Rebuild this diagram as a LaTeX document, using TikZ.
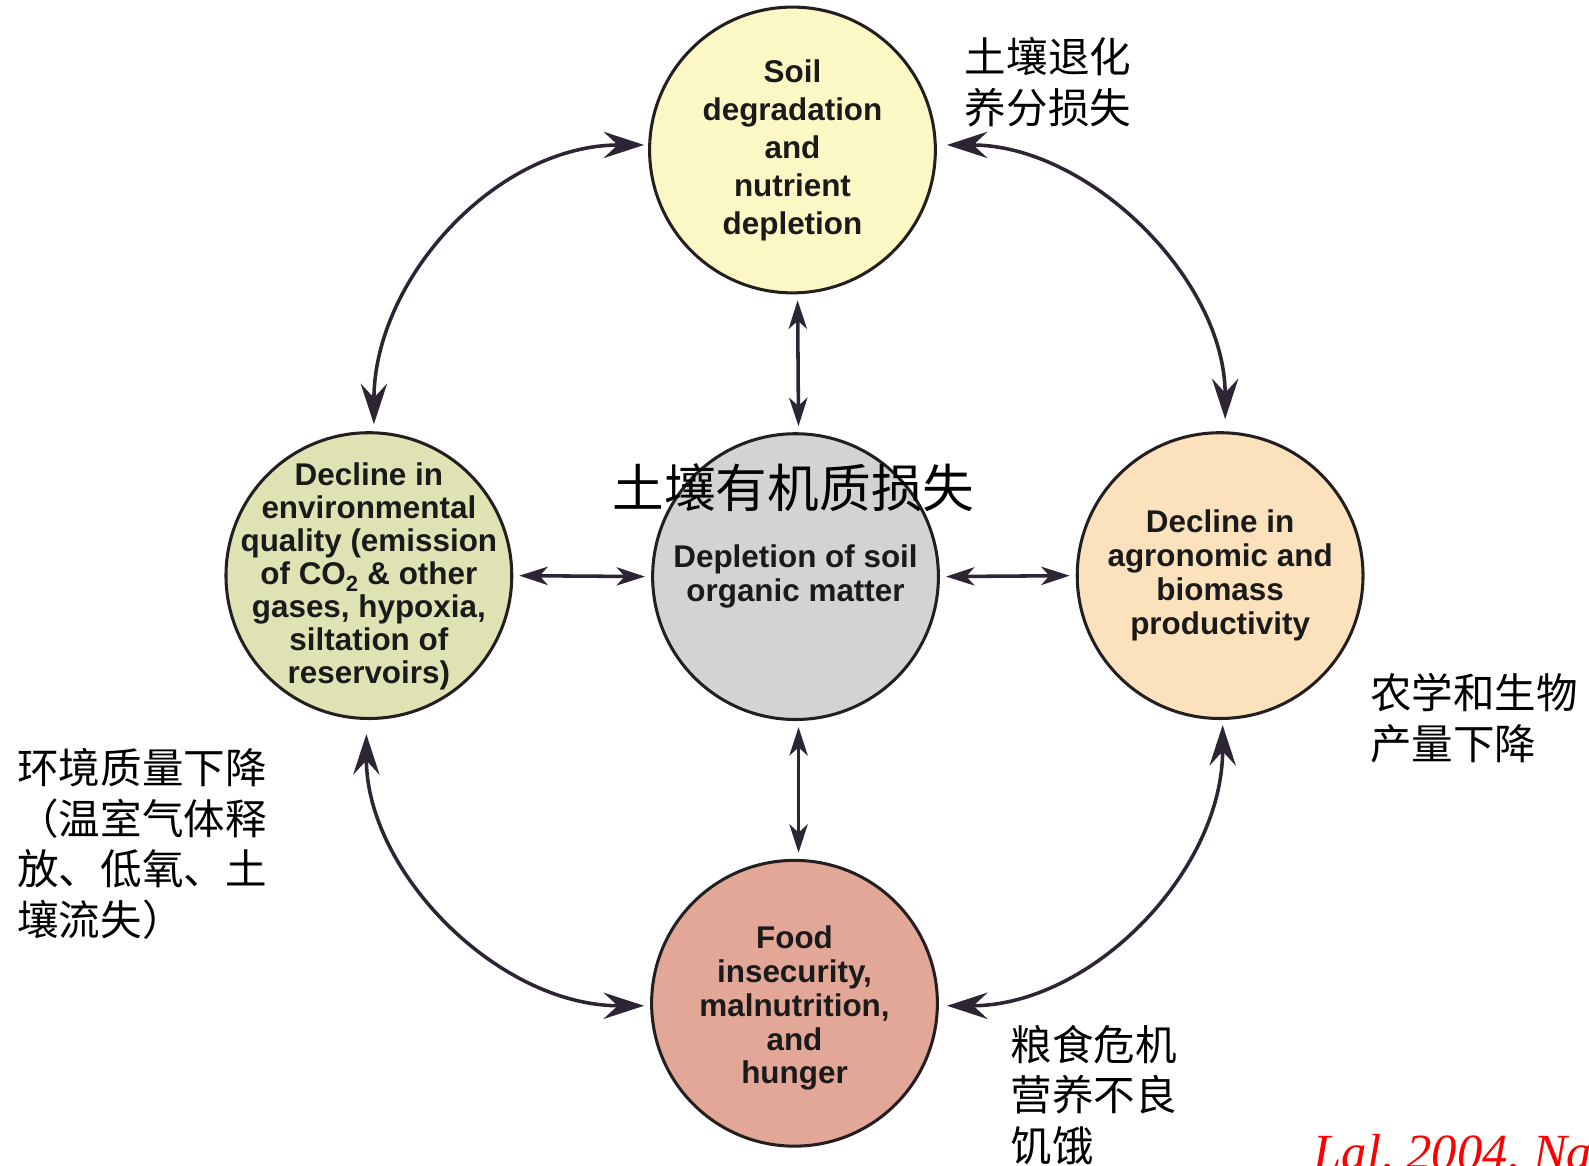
\documentclass[tikz,border=0pt]{standalone}
\usepackage{fontspec}
\setmainfont{Liberation Sans}
\newfontfamily\cjk{Noto Sans CJK SC}
\newfontfamily\refserif{Liberation Serif}
\usetikzlibrary{arrows.meta}
\definecolor{outl}{HTML}{231F20}
\definecolor{arr}{HTML}{2D2533}
\definecolor{cTop}{HTML}{FCF8C5}
\definecolor{cMid}{HTML}{D3D3D6}
\definecolor{cLeft}{HTML}{DFE2B3}
\definecolor{cRight}{HTML}{FBE2BC}
\definecolor{cBot}{HTML}{E2A797}
\definecolor{txt}{HTML}{1A1A1A}
\tikzset{
  bub/.style={circle, draw=outl, line width=3pt, minimum size=282pt, inner sep=0pt},
  bubtext/.style={align=center, inner sep=0pt, text=txt, font=\bfseries\fontsize{31}{#1}\selectfont},
  curv/.style={draw=arr, line width=3.5pt,
    {Stealth[length=40pt,width=26pt,inset=14pt]}-{Stealth[length=40pt,width=26pt,inset=14pt]}},
  strt/.style={draw=arr, line width=3.5pt, shorten <=6pt, shorten >=6pt,
    {Stealth[length=28pt,width=18pt,inset=8pt]}-{Stealth[length=28pt,width=18pt,inset=8pt]}},
  cjklab/.style={align=left, inner sep=0pt, text=black, font=\cjk\fontsize{41}{50}\selectfont},
}
\begin{document}
\begin{tikzpicture}[x=1pt,y=-1pt]
\useasboundingbox (0,0) rectangle (1568,1150);
\clip (0,0) rectangle (1568,1150);

\node[bub, fill=cTop] (soil) at (782,148) {};
\node[bub, fill=cMid] (dep) at (785,569) {};
\node[bub, fill=cLeft] (env) at (364,568) {};
\node[bub, fill=cRight] (agr) at (1204,568) {};
\node[bub, fill=cBot] (food) at (784,990) {};

\node[bubtext=37.5] (soilT) at (soil.center) {Soil\\degradation\\and\\nutrient\\depletion};
\node[bubtext=34] (depT) at (dep.center) {Depletion of soil\\organic matter};
\node[bubtext=32.5] (envT) at ([yshift=-1pt]env.center) {Decline in\\environmental\\quality (emission\\of CO\textsubscript{2} \& other\\gases, hypoxia,\\siltation of\\reservoirs)};
\node[bubtext=33.5] (agrT) at (agr.center) {Decline in\\agronomic and\\biomass\\productivity};
\node[bubtext=33.3] (foodT) at ([yshift=-5pt]food.center) {Food\\insecurity,\\malnutrition,\\and\\hunger};

% straight arrows
\draw[strt] ([xshift=5pt]soil.south) -- ([xshift=3pt]dep.north);
\draw[strt] ([xshift=3pt]dep.south) -- ([xshift=4pt]food.north);
\draw[strt] (env.east) -- (dep.west);
\draw[strt] (dep.east) -- (agr.west);

% curved arrows
\draw[curv, shorten <=4pt, shorten >=7pt] (soil.178) .. controls +(-150,0) and +(0,-150) .. (env.88);
\draw[curv, shorten <=10pt, shorten >=12pt] (soil.2) .. controls +(150,0) and +(0,-150) .. (agr.88);
\draw[curv, shorten <=14pt, shorten >=6pt] (env.269) .. controls +(0,150) and +(-150,0) .. (food.181);
\draw[curv, shorten <=5pt, shorten >=8pt] (agr.271) .. controls +(0,150) and +(150,0) .. (food.359);

% Chinese labels (anchored at the baseline of the last line)
\node[cjklab, anchor=base west] (lTop) at (952,122) {土壤退化\\养分损失};
\node[cjklab, anchor=base west] (lLeft) at (17,923) {环境质量下降\\（温室气体释\\放、低氧、土\\壤流失）};
\node[cjklab, anchor=base west] (lRight) at (1352,749) {农学和生物\\产量下降};
\node[cjklab, anchor=base west] (lBot) at (997,1146) {粮食危机\\营养不良\\饥饿};
\node[inner sep=0pt, anchor=base, text=black, font=\cjk\fontsize{51}{60}\selectfont] (lMid) at (783,501) {土壤有机质损失};

% reference
\node[inner sep=0pt, anchor=base west, text=red, font=\refserif\itshape\fontsize{50}{58}\selectfont] (cite) at (1296,1154) {Lal, 2004, Nature};
\end{tikzpicture}
\end{document}
